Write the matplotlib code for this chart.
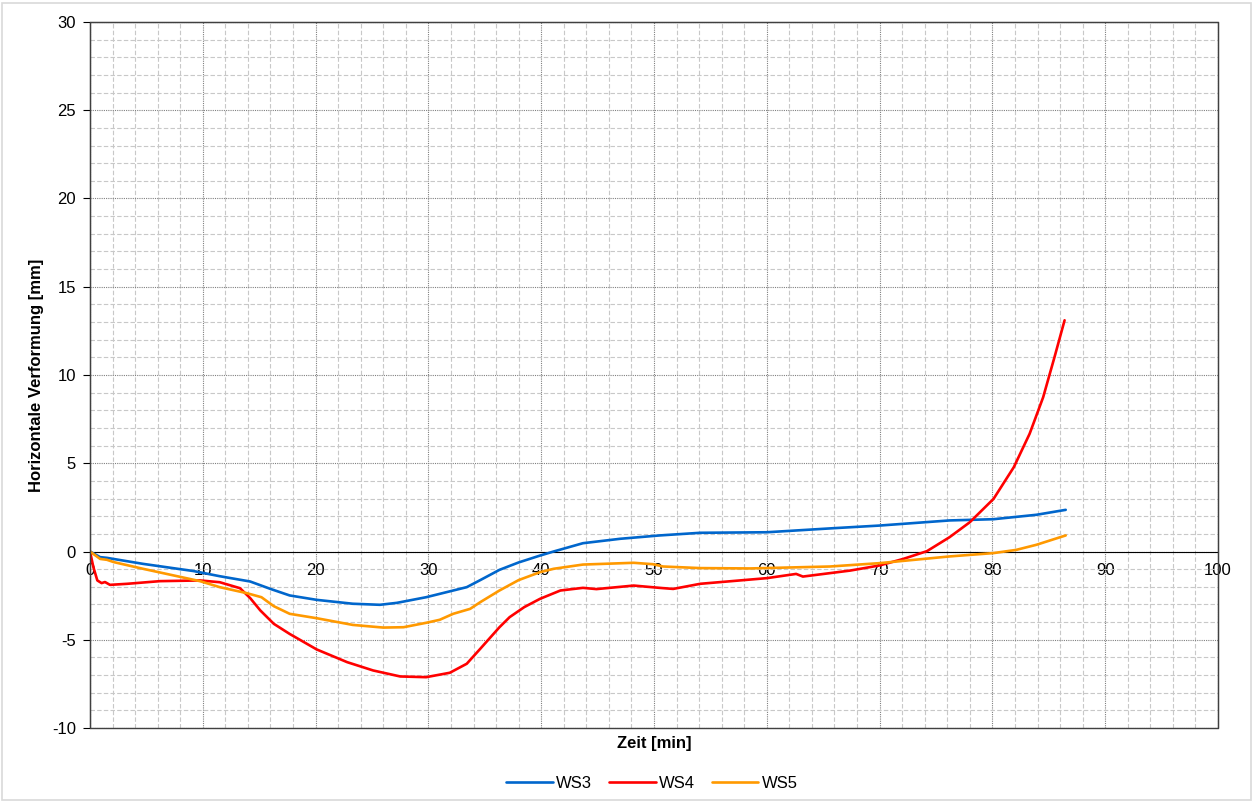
import numpy as np
import matplotlib.pyplot as plt
from matplotlib.patches import Rectangle
from matplotlib.ticker import MultipleLocator

plt.rcParams['font.family'] = ['Liberation Sans', 'DejaVu Sans']
plt.rcParams['axes.unicode_minus'] = False

#   Series (time in min, deformation in mm)
t_ws3 = [0, 0.9, 1.5, 4.7, 9.2, 11.5, 14.2, 16.0, 17.7, 20.1, 23.3, 25.7, 27.2, 29.8,
         32.2, 33.4, 34.6, 36.3, 38.0, 39.9, 41.1, 43.7, 47.0, 50.5, 54.1, 60.0,
         65.9, 70.0, 76.2, 80.1, 83.9, 86.5]
y_ws3 = [0, -0.32, -0.36, -0.70, -1.11, -1.40, -1.70, -2.12, -2.49, -2.74, -2.96, -3.02, -2.91, -2.59,
         -2.21, -2.02, -1.62, -1.04, -0.62, -0.23, 0.0, 0.47, 0.72, 0.91, 1.06, 1.09,
         1.32, 1.47, 1.76, 1.83, 2.08, 2.36]

t_ws4 = [0, 0.3, 0.65, 1.03, 1.33, 1.77, 3.3, 6.2, 9.75, 11.5, 13.3, 14.2, 15.1, 16.3, 17.7,
         20.1, 22.8, 25.1, 27.5, 29.8, 31.9, 33.4, 34.6, 36.3, 37.2, 38.5, 39.9, 41.7, 43.7,
         44.9, 48.2, 50.5, 51.7, 54.1, 60.0, 62.6, 63.2, 67.4, 70.0, 72.1, 74.2, 76.2, 78.0,
         80.1, 81.9, 83.3, 84.5, 85.5, 86.4]
y_ws4 = [0, -0.89, -1.64, -1.79, -1.73, -1.89, -1.83, -1.68, -1.64, -1.74, -2.08, -2.64, -3.34, -4.10, -4.67,
         -5.55, -6.27, -6.74, -7.08, -7.12, -6.87, -6.36, -5.51, -4.29, -3.72, -3.15, -2.68, -2.21, -2.06,
         -2.13, -1.93, -2.06, -2.12, -1.83, -1.51, -1.27, -1.42, -1.08, -0.79, -0.42, 0.02, 0.81, 1.66,
         2.98, 4.78, 6.67, 8.74, 11.0, 13.1]

t_ws5 = [0, 0.9, 1.5, 2.1, 4.7, 9.75, 11.5, 13.9, 15.2, 16.3, 17.7, 20.1, 23.3, 26.0, 27.8, 29.8,
         31.0, 32.2, 33.7, 34.6, 36.3, 38.0, 39.9, 41.1, 43.7, 48.2, 49.9, 50.8, 54.1, 58.5,
         65.6, 70.0, 76.2, 80.1, 82.1, 83.9, 86.5]
y_ws5 = [0, -0.42, -0.47, -0.60, -0.98, -1.68, -2.02, -2.36, -2.59, -3.10, -3.53, -3.78, -4.16, -4.31, -4.29, -4.04,
         -3.87, -3.53, -3.25, -2.87, -2.21, -1.62, -1.17, -0.98, -0.74, -0.64, -0.72, -0.85, -0.94, -0.96,
         -0.85, -0.66, -0.28, -0.09, 0.09, 0.38, 0.91]

series = ['WS3', 'WS4', 'WS5']
colors = ['#0066CC', '#FF0000', '#FF9900']

fig = plt.figure(figsize=(12.54, 8.02), dpi=100)
ax = fig.add_axes([90/1254, 1 - 728/802, (1218 - 90)/1254, (728 - 22)/802])

#   Light frame round the whole chart
fig.patches.append(Rectangle((2/1254, 2/802), 1 - 5/1254, 1 - 5/802, transform=fig.transFigure,
                             fill=False, edgecolor='#d9d9d9', linewidth=1.2))

for t, y, name, c in zip([t_ws3, t_ws4, t_ws5], [y_ws3, y_ws4, y_ws5], series, colors):
    ax.plot(t, y, color=c, linewidth=1.9, label=name, zorder=3,
            solid_joinstyle='round', solid_capstyle='round')

ax.set_xlim(0, 100)
ax.set_ylim(-10, 30)
ax.xaxis.set_major_locator(MultipleLocator(10))
ax.xaxis.set_minor_locator(MultipleLocator(2))
ax.yaxis.set_major_locator(MultipleLocator(5))
ax.yaxis.set_minor_locator(MultipleLocator(1))

ax.grid(which='minor', color='#c8c8c8', linestyle=(0, (4, 2)), linewidth=0.8, zorder=0)
ax.grid(which='major', color='#808080', linestyle=(0, (1, 1)), linewidth=0.8, zorder=0)
ax.set_axisbelow(True)

#   x axis crosses at zero, box round the plot area
ax.spines['bottom'].set_position(('data', 0))
ax.spines['bottom'].set_color('black')
ax.spines['left'].set_color('black')
for s in ['top', 'right']:
    ax.spines[s].set_color('#404040')
ax.add_patch(Rectangle((0, 0), 1, 1, transform=ax.transAxes, fill=False,
                       edgecolor='#404040', linewidth=1.0, zorder=4, clip_on=False))

ax.tick_params(axis='x', which='major', length=0, pad=8, labelsize=12)
ax.tick_params(axis='y', which='major', length=5, direction='out', labelsize=12, pad=5)
ax.tick_params(which='minor', length=0)

ax.set_xlabel('Zeit [min]', fontsize=12, fontweight='bold')
ax.xaxis.set_label_coords(0.5, -0.012)
ax.set_ylabel('Horizontale Verformung [mm]', fontsize=12, fontweight='bold')
ax.yaxis.set_label_coords(-0.041, 0.5)

fig.legend(loc='center', bbox_to_anchor=(652/1254, 1 - 783/802), ncol=3, frameon=False,
           fontsize=12, handlelength=2.8, columnspacing=1.0, handletextpad=0.2)

fig.savefig('out.png', dpi=100)
